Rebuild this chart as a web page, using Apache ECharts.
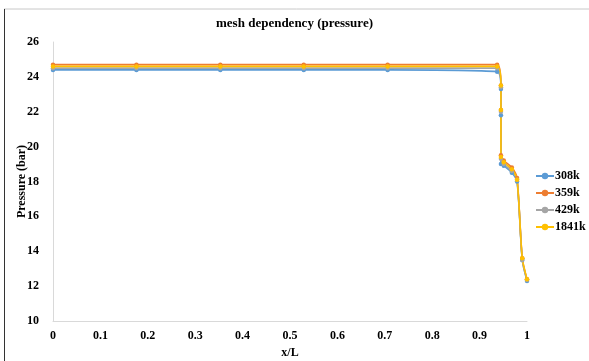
<!DOCTYPE html>
<html><head><meta charset="utf-8">
<script src="https://cdn.jsdelivr.net/npm/echarts@6/dist/echarts.min.js"></script>
<style>html,body{margin:0;padding:0;background:#fff}#c{width:589px;height:361px}</style>
</head><body><div id="c"></div>
<script>
const xPos = [0, 0.176, 0.353, 0.529, 0.706, 0.937, 0.945, 0.945, 0.945, 0.951, 0.968, 0.979, 0.99, 1.0];
const s308k = [24.4, 24.4, 24.4, 24.4, 24.4, 24.3, 23.3, 21.8, 19.0, 18.9, 18.5, 18.0, 13.5, 12.3];
const s359k = [24.7, 24.7, 24.7, 24.7, 24.7, 24.7, 23.5, 22.1, 19.5, 19.2, 18.8, 18.2, 13.6, 12.4];
const s429k = [24.5, 24.5, 24.5, 24.5, 24.5, 24.5, 23.4, 22.0, 19.3, 19.0, 18.6, 18.1, 13.5, 12.35];
const s1841k = [24.6, 24.6, 24.6, 24.6, 24.6, 24.6, 23.5, 22.1, 19.4, 19.1, 18.7, 18.1, 13.6, 12.4];
const names = ['308k', '359k', '429k', '1841k'];
const colors = ['#5B9BD5', '#ED7D31', '#A5A5A5', '#FFC000'];
const all = [s308k, s359k, s429k, s1841k];

const font = 'Liberation Serif';
const chart = echarts.init(document.getElementById('c'));
chart.setOption({
  animation: false,
  backgroundColor: '#fff',
  title: {text: 'mesh dependency (pressure)', left: 'center', top: 12,
    textStyle: {fontFamily: font, fontWeight: 'bold', fontSize: 13, color: '#000'}},
  grid: {left: 53, right: 62, top: 42, bottom: 40, containLabel: false, outerBoundsMode: 'none'},
  legend: {orient: 'vertical', left: 530, top: 165, itemGap: 5, itemWidth: 18, itemHeight: 8,
    data: names, textStyle: {fontFamily: font, fontWeight: 'bold', fontSize: 12, color: '#000', padding: [0,0,0,-4]}},
  xAxis: {type: 'value', min: 0, max: 1, interval: 0.1,
    name: 'x/L', nameLocation: 'middle', nameGap: 26, nameMoveOverlap: false,
    nameTextStyle: {fontFamily: font, fontWeight: 'bold', fontSize: 12, color: '#000'},
    axisLine: {lineStyle: {color: '#d9d9d9'}}, axisTick: {show: false}, splitLine: {show: false},
    axisLabel: {fontFamily: font, fontWeight: 'bold', fontSize: 12, color: '#000', margin: 9,
      formatter: v => String(Math.round(v * 10) / 10)}},
  yAxis: {type: 'value', min: 10, max: 26, interval: 2,
    name: 'Pressure (bar)', nameLocation: 'middle', nameGap: 25, nameMoveOverlap: false,
    nameTextStyle: {fontFamily: font, fontWeight: 'bold', fontSize: 12, color: '#000'},
    axisLine: {show: true, lineStyle: {color: '#d9d9d9'}}, axisTick: {show: false}, splitLine: {show: false},
    axisLabel: {fontFamily: font, fontWeight: 'bold', fontSize: 12, color: '#000', margin: 14}},
  series: names.map((n, i) => ({
    name: n, type: 'line', smooth: 0.25,
    data: xPos.map((x, j) => [x, all[i][j]]),
    symbol: 'circle', symbolSize: 4.5,
    lineStyle: {color: colors[i], width: 1.6},
    itemStyle: {color: colors[i]}
  })),
  graphic: [
    {type: 'line', shape: {x1: 4, y1: 9, x2: 589, y2: 9}, style: {stroke: '#c8c8c8', lineWidth: 1}},
    {type: 'line', shape: {x1: 4.5, y1: 9, x2: 4.5, y2: 361}, style: {stroke: '#333', lineWidth: 1}}
  ]
});
</script></body></html>
